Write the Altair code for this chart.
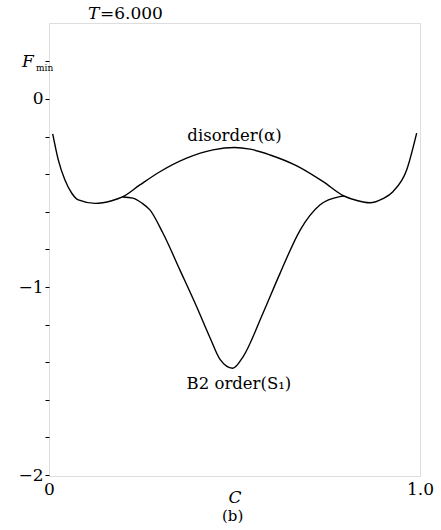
import altair as alt
import pandas as pd

# Free energy minimum vs. composition C at T = 6.000
dis_c = [0.010, 0.025, 0.043, 0.061, 0.079, 0.124, 0.169, 0.198, 0.245, 0.299, 0.371,
         0.442, 0.500, 0.542, 0.596, 0.668, 0.739, 0.795, 0.830, 0.865, 0.900, 0.927,
         0.964, 0.991]
dis_f = [-0.186, -0.324, -0.431, -0.500, -0.537, -0.555, -0.541, -0.521, -0.457, -0.387,
         -0.315, -0.271, -0.258, -0.267, -0.298, -0.356, -0.440, -0.516, -0.540, -0.552,
         -0.530, -0.493, -0.378, -0.182]

ord_c = [0.198, 0.226, 0.250, 0.272, 0.307, 0.353, 0.398, 0.434, 0.461, 0.495, 0.523,
         0.577, 0.623, 0.677, 0.730, 0.784, 0.795]
ord_f = [-0.521, -0.527, -0.553, -0.590, -0.713, -0.910, -1.105, -1.270, -1.385, -1.432,
         -1.371, -1.138, -0.926, -0.697, -0.564, -0.519, -0.516]

y_ticks = [-2.0, -1.8, -1.6, -1.4, -1.2, -1.0, -0.8, -0.6, -0.4, -0.2, 0.0, 0.2]
x_ticks = [0, 1]

SERIF = "DejaVu Serif"

curves = pd.concat([
    pd.DataFrame({"C": dis_c, "F": dis_f, "phase": "disorder"}),
    pd.DataFrame({"C": ord_c, "F": ord_f, "phase": "B2"}),
])

xs = alt.Scale(domain=[0, 1], nice=False, zero=False)
ys = alt.Scale(domain=[-2.005, 0.404], nice=False, zero=False)

lines = alt.Chart(curves).mark_line(
    color="black", strokeWidth=1.4, interpolate="monotone", clip=True
).encode(
    x=alt.X("C:Q", scale=xs, axis=alt.Axis(
        values=x_ticks, labelExpr="datum.value == 1 ? '1.0' : '0'", labelFlush=False,
        ticks=False, domain=False, grid=False, labelFont=SERIF, labelFontSize=17,
        labelColor="black", labelPadding=5, title="C", titleFont=SERIF,
        titleFontStyle="italic", titleFontWeight="normal", titleFontSize=17,
        titleColor="black", titleY=26, titleBaseline="alphabetic")),
    y=alt.Y("F:Q", scale=ys, axis=alt.Axis(
        values=y_ticks, format=".0f",
        labelExpr="abs(datum.value - round(datum.value)) < 0.001 ? datum.label : ''",
        tickSize=4, tickColor="black", tickWidth=1, domain=False, grid=False,
        labelFont=SERIF, labelFontSize=17, labelColor="black", labelPadding=2,
        title=None)),
    detail="phase:N",
)

# curve labels in data coordinates
lab_df = pd.DataFrame({
    "C": [0.500, 0.512],
    "F": [-0.197, -1.516],
    "text": ["disorder(α)", "B2 order(S₁)"],
})
labels = alt.Chart(lab_df).mark_text(
    font=SERIF, fontSize=16.5, color="black", baseline="middle", align="center"
).encode(x=alt.X("C:Q", scale=xs), y=alt.Y("F:Q", scale=ys), text="text:N")

# frame annotations (pixel offsets from the plot origin)
ann_df = pd.DataFrame({
    "px": [39, 51, -27, -13, 173],
    "py": [-4, -4, 44, 48, 453 + 45],
    "text": ["T", "=6.000", "F", "min", "(b)"],
    "italic": [True, False, True, False, False],
    "size": [17, 17, 17, 9, 15],
})


def ann_layer(italic):
    sub = ann_df[ann_df["italic"] == italic]
    return alt.Chart(sub).mark_text(
        font=SERIF, color="black", align="left", baseline="alphabetic",
        fontStyle="italic" if italic else "normal"
    ).encode(
        x=alt.X("px:Q", scale=None),
        y=alt.Y("py:Q", scale=None),
        text="text:N",
        size=alt.Size("size:Q", scale=None, legend=None),
    )


chart = alt.layer(lines, labels, ann_layer(True), ann_layer(False)).properties(
    width=371, height=453,
    padding={"left": 49, "top": 23, "right": 21, "bottom": 54},
    autosize=alt.AutoSizeParams(type="none"),
).configure_view(stroke="black", strokeWidth=1.5).configure(background="white")

chart.save("out.html", embed_options={"renderer": "svg", "actions": False})
